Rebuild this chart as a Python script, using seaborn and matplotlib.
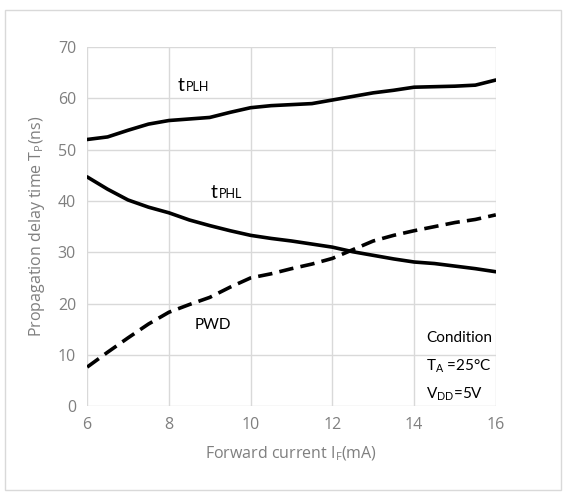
import pandas as pd
import matplotlib.pyplot as plt
import seaborn as sns
from matplotlib.patches import Rectangle

# Values
current_plh = [6, 6.5, 7, 7.5, 8, 8.5, 9, 9.5, 10, 10.5, 11, 11.5, 12, 12.5, 13, 13.5, 14, 14.5, 15, 15.5, 16]
t_plh = [52.0, 52.5, 53.8, 55.0, 55.7, 56.0, 56.3, 57.3, 58.2, 58.6, 58.8, 59.0, 59.7, 60.4, 61.1, 61.6, 62.2, 62.3, 62.4, 62.6, 63.6]

current_phl = [6, 6.5, 7, 7.5, 8, 8.5, 9, 9.5, 10, 10.5, 11, 11.5, 12, 12.5, 13, 13.5, 14, 14.5, 15, 15.5, 16]
t_phl = [44.7, 42.3, 40.2, 38.8, 37.7, 36.3, 35.2, 34.2, 33.3, 32.7, 32.2, 31.6, 31.0, 30.1, 29.4, 28.7, 28.1, 27.8, 27.3, 26.8, 26.2]

current_pwd = [6, 6.5, 7, 7.5, 8, 8.5, 9, 9.5, 10, 10.5, 11, 11.5, 12, 12.5, 13, 13.5, 14, 14.5, 15, 15.5, 16]
pwd = [7.6, 10.5, 13.3, 16.0, 18.3, 19.8, 21.2, 23.2, 25.0, 25.8, 26.8, 27.7, 28.8, 30.5, 32.2, 33.3, 34.2, 35.0, 35.8, 36.4, 37.3]

df = pd.concat([
    pd.DataFrame({'current': current_plh, 'delay': t_plh, 'curve': 'tPLH'}),
    pd.DataFrame({'current': current_phl, 'delay': t_phl, 'curve': 'tPHL'}),
    pd.DataFrame({'current': current_pwd, 'delay': pwd, 'curve': 'PWD'}),
])

sns.set_theme(style='whitegrid')
plt.rcParams['font.family'] = ['Open Sans', 'DejaVu Sans']

fig = plt.figure(figsize=(5.66, 4.97), dpi=100)
ax = fig.add_axes([0.154, 0.183, 0.722, 0.722])

# Outer chart frame
fig.patches.append(Rectangle((0.008, 0.014), 0.984, 0.966, transform=fig.transFigure,
                             fill=False, edgecolor='#d9d9d9', linewidth=1.0))

sns.lineplot(data=df, x='current', y='delay', hue='curve', style='curve',
             palette={'tPLH': 'black', 'tPHL': 'black', 'PWD': 'black'},
             dashes={'tPLH': '', 'tPHL': '', 'PWD': (4, 2)},
             linewidth=2.6, legend=False, ax=ax)

ax.set_xlim(6, 16)
ax.set_ylim(0, 70)
ax.set_xticks(range(6, 17, 2))
ax.set_yticks(range(0, 71, 10))
ax.grid(True, color='#d9d9d9', linewidth=1.0)
for s in ax.spines.values():
    s.set_visible(False)
ax.tick_params(axis='both', colors='#7f7f7f', labelsize=11.5, length=0, pad=8)
ax.set_xlabel('Forward current I$_\\mathregular{F}$(mA)', color='#7f7f7f', fontsize=11.5, labelpad=8)
ax.set_ylabel('Propagation delay time T$_\\mathregular{P}$(ns)', color='#7f7f7f', fontsize=11.5, labelpad=8)

# Curve labels
lab = dict(color='black', family=['Lato', 'DejaVu Sans'])
ax.text(8.22, 61.5, 't', fontsize=14, ha='left', va='baseline', **lab)
ax.text(8.42, 61.5, 'PLH', fontsize=9, ha='left', va='baseline', **lab)
ax.text(9.02, 40.5, 't', fontsize=14, ha='left', va='baseline', **lab)
ax.text(9.22, 40.5, 'PHL', fontsize=9, ha='left', va='baseline', **lab)
ax.text(8.62, 15.8, 'PWD', fontsize=11, ha='left', va='center', **lab)

# Condition block
ax.text(14.3, 13.2, 'Condition', fontsize=11, ha='left', va='center', **lab)
ax.text(14.3, 7.8, 'T$_\\mathregular{A}$ =25°C', fontsize=11, ha='left', va='center', **lab)
ax.text(14.3, 2.4, 'V$_\\mathregular{DD}$=5V', fontsize=11, ha='left', va='center', **lab)

plt.savefig('out.png', dpi=100)
plt.close()
